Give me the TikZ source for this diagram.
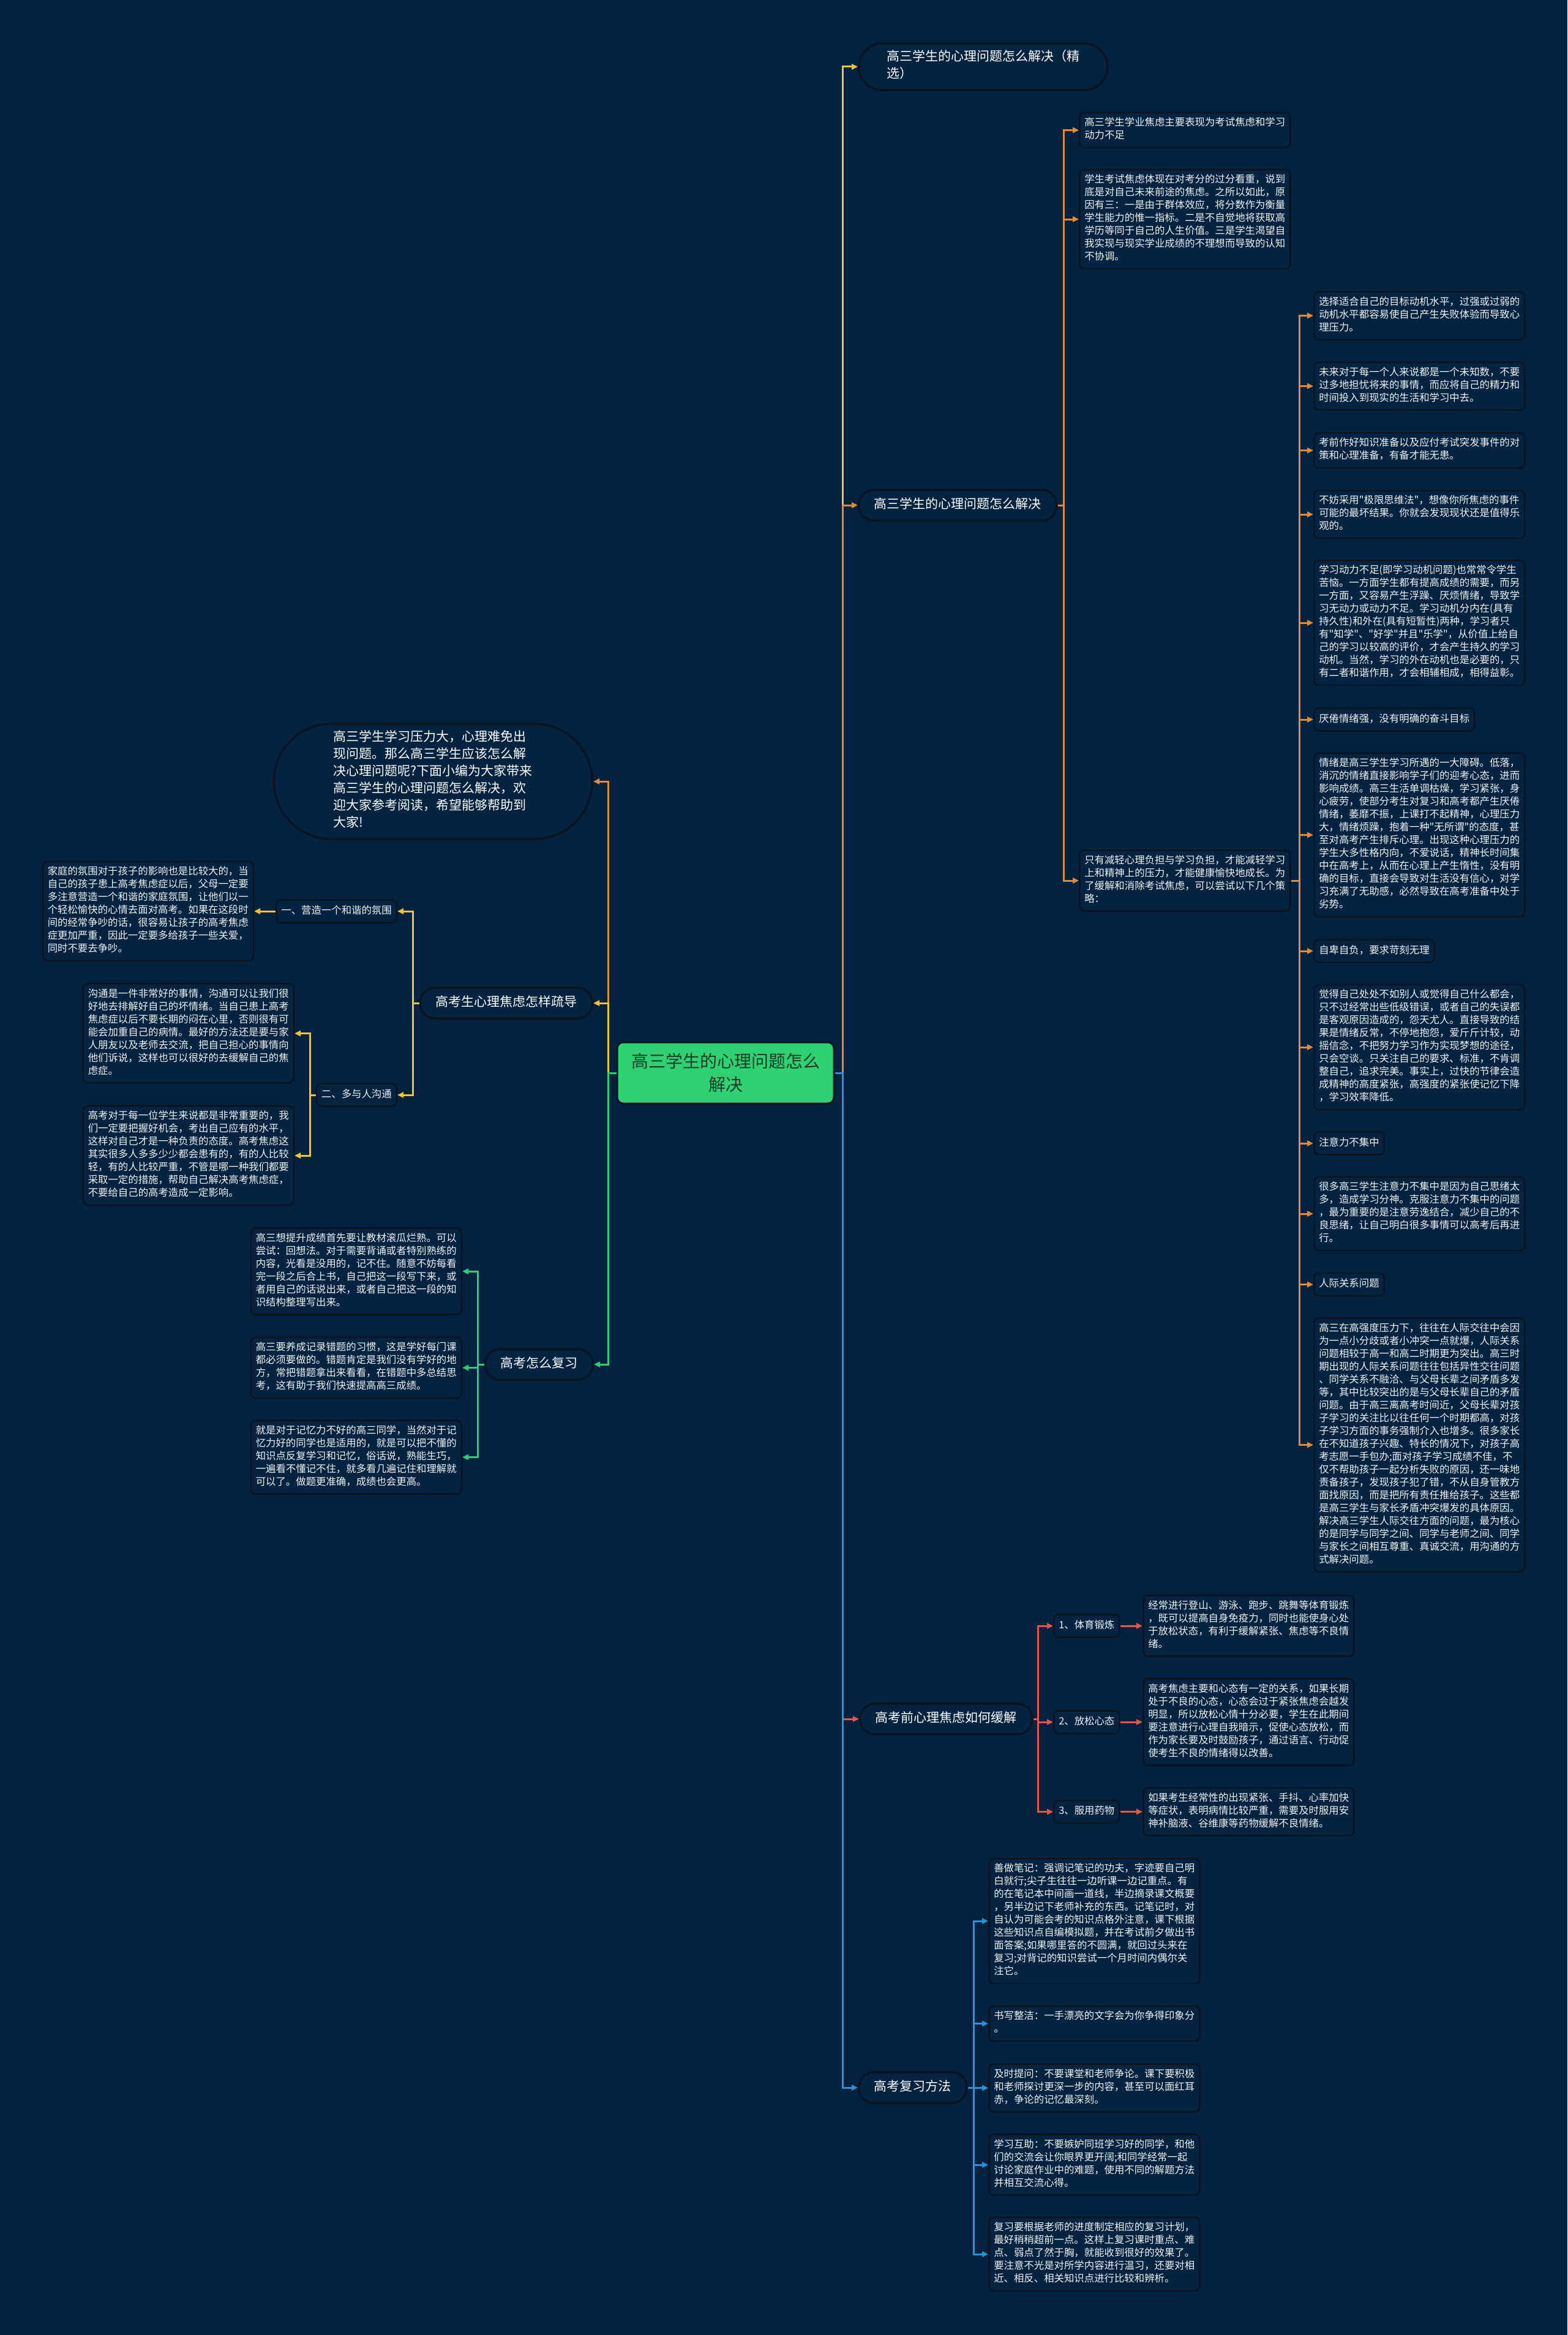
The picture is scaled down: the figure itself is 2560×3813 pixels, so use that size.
\documentclass[tikz,border=0pt]{standalone}
\usepackage{fontspec}
\setmainfont{Noto Sans CJK SC}[Ligatures=TeXOff]
\usetikzlibrary{arrows.meta}
\definecolor{bgc}{RGB}{2,34,64}
\definecolor{lfill}{RGB}{3,35,65}
\definecolor{nline}{RGB}{10,20,32}
\definecolor{ltext}{RGB}{242,244,246}
\definecolor{cyel}{RGB}{240,196,50}
\definecolor{corg}{RGB}{228,138,52}
\definecolor{cred}{RGB}{228,86,76}
\definecolor{cblu}{RGB}{38,148,220}
\definecolor{cgrn}{RGB}{46,204,113}
\definecolor{rootg}{RGB}{46,210,113}
\definecolor{roottext}{RGB}{28,58,42}
\newcommand{\lffont}{\fontsize{16.4}{21}\selectfont}
\newcommand{\brfont}{\fontsize{21}{28}\selectfont}
\newcommand{\rtfont}{\fontsize{28}{38}\selectfont}
\begin{document}
\begin{tikzpicture}[x=1pt,y=-1pt,
 conn/.style={line width=3pt,-{Triangle[length=10pt,width=9pt]}},
 cy/.style={conn,draw=cyel},
 co/.style={conn,draw=corg},
 cr/.style={conn,draw=cred},
 cb/.style={conn,draw=cblu},
 cg/.style={conn,draw=cgrn},
 leaf/.style={draw=nline,line width=2.5pt,fill=lfill,rounded corners=8pt,align=left,
   inner xsep=8pt,inner ysep=8pt,text=ltext,font=\lffont,
   execute at begin node=\strut,execute at end node=\strut},
 pill/.style={draw=nline,line width=3.5pt,fill=lfill,rounded corners=#1,align=left,
   inner xsep=25pt,inner ysep=11pt,text=white,font=\brfont,
   execute at begin node=\strut,execute at end node=\strut},
 pill/.default=24pt,
 rootbox/.style={draw=nline,line width=3pt,fill=rootg,rounded corners=10pt,align=center,
   text=roottext,font=\rtfont,minimum width=354pt,minimum height=100pt,inner sep=0pt}
]
\useasboundingbox (0,0) rectangle (2560,3813);
\fill[bgc] (0,0) rectangle (2560,3813);

% root
\node[rootbox] (root) at (1185,1752) {高三学生的心理问题怎么\\解决};

% right main branches
\node[pill=38pt,anchor=west,minimum width=406pt] (R1) at (1401,109) {高三学生的心理问题怎么解决（精\\选）};
\node[pill,anchor=west] (R2) at (1401,825) {高三学生的心理问题怎么解决};
\node[pill,anchor=west] (R3) at (1403,2807) {高考前心理焦虑如何缓解};
\node[pill,anchor=west] (R4) at (1401,3409) {高考复习方法};

% left main branches
\node[pill=94pt,anchor=east,minimum width=520pt] (L1) at (969,1276) {高三学生学习压力大，心理难免出\\现问题。那么高三学生应该怎么解\\决心理问题呢?下面小编为大家带来\\高三学生的心理问题怎么解决，欢\\迎大家参考阅读，希望能够帮助到\\大家!};
\node[pill,anchor=east] (L2) at (969,1638) {高考生心理焦虑怎样疏导};
\node[pill,anchor=east] (L3) at (970,2228) {高考怎么复习};

% R2 children
\node[leaf,anchor=west] (c1) at (1762,212.5) {高三学生学业焦虑主要表现为考试焦虑和学习\\动力不足};
\node[leaf,anchor=west] (c2) at (1762,358) {学生考试焦虑体现在对考分的过分看重，说到\\底是对自己未来前途的焦虑。之所以如此，原\\因有三：一是由于群体效应，将分数作为衡量\\学生能力的惟一指标。二是不自觉地将获取高\\学历等同于自己的人生价值。三是学生渴望自\\我实现与现实学业成绩的不理想而导致的认知\\不协调。};
\node[leaf,anchor=west] (c3) at (1762,1438) {只有减轻心理负担与学习负担，才能减轻学习\\上和精神上的压力，才能健康愉快地成长。为\\了缓解和消除考试焦虑，可以尝试以下几个策\\略：};

% c3 children
\node[leaf,anchor=west] (d1) at (2145,515.5) {选择适合自己的目标动机水平，过强或过弱的\\动机水平都容易使自己产生失败体验而导致心\\理压力。};
\node[leaf,anchor=west] (d2) at (2145,630.5) {未来对于每一个人来说都是一个未知数，不要\\过多地担忧将来的事情，而应将自己的精力和\\时间投入到现实的生活和学习中去。};
\node[leaf,anchor=west] (d3) at (2145,735.5) {考前作好知识准备以及应付考试突发事件的对\\策和心理准备，有备才能无患。};
\node[leaf,anchor=west] (d4) at (2145,840) {不妨采用"极限思维法"，想像你所焦虑的事件\\可能的最坏结果。你就会发现现状还是值得乐\\观的。};
\node[leaf,anchor=west] (d5) at (2145,1017) {学习动力不足(即学习动机问题)也常常令学生\\苦恼。一方面学生都有提高成绩的需要，而另\\一方面，又容易产生浮躁、厌烦情绪，导致学\\习无动力或动力不足。学习动机分内在(具有\\持久性)和外在(具有短暂性)两种，学习者只\\有"知学"、"好学"并且"乐学"，从价值上给自\\己的学习以较高的评价，才会产生持久的学习\\动机。当然，学习的外在动机也是必要的，只\\有二者和谐作用，才会相辅相成，相得益彰。};
\node[leaf,anchor=west] (d6) at (2145,1175) {厌倦情绪强，没有明确的奋斗目标};
\node[leaf,anchor=west] (d7) at (2145,1363.5) {情绪是高三学生学习所遇的一大障碍。低落，\\消沉的情绪直接影响学子们的迎考心态，进而\\影响成绩。高三生活单调枯燥，学习紧张，身\\心疲劳，使部分考生对复习和高考都产生厌倦\\情绪，萎靡不振，上课打不起精神，心理压力\\大，情绪烦躁，抱着一种"无所谓"的态度，甚\\至对高考产生排斥心理。出现这种心理压力的\\学生大多性格内向，不爱说话，精神长时间集\\中在高考上，从而在心理上产生惰性，没有明\\确的目标，直接会导致对生活没有信心，对学\\习充满了无助感，必然导致在高考准备中处于\\劣势。};
\node[leaf,anchor=west] (d8) at (2145,1553) {自卑自负，要求苛刻无理};
\node[leaf,anchor=west] (d9) at (2145,1710) {觉得自己处处不如别人或觉得自己什么都会，\\只不过经常出些低级错误，或者自己的失误都\\是客观原因造成的，怨天尤人。直接导致的结\\果是情绪反常，不停地抱怨，爱斤斤计较，动\\摇信念，不把努力学习作为实现梦想的途径，\\只会空谈。只关注自己的要求、标准，不肯调\\整自己，追求完美。事实上，过快的节律会造\\成精神的高度紧张，高强度的紧张使记忆下降\\，学习效率降低。};
\node[leaf,anchor=west] (d10) at (2145,1867) {注意力不集中};
\node[leaf,anchor=west] (d11) at (2145,1982) {很多高三学生注意力不集中是因为自己思绪太\\多，造成学习分神。克服注意力不集中的问题\\，最为重要的是注意劳逸结合，减少自己的不\\良思绪，让自己明白很多事情可以高考后再进\\行。};
\node[leaf,anchor=west] (d12) at (2145,2097.5) {人际关系问题};
\node[leaf,anchor=west] (d13) at (2145,2359.5) {高三在高强度压力下，往往在人际交往中会因\\为一点小分歧或者小冲突一点就爆，人际关系\\问题相较于高一和高二时期更为突出。高三时\\期出现的人际关系问题往往包括异性交往问题\\、同学关系不融洽、与父母长辈之间矛盾多发\\等，其中比较突出的是与父母长辈自己的矛盾\\问题。由于高三离高考时间近，父母长辈对孩\\子学习的关注比以往任何一个时期都高，对孩\\子学习方面的事务强制介入也增多。很多家长\\在不知道孩子兴趣、特长的情况下，对孩子高\\考志愿一手包办;面对孩子学习成绩不佳，不\\仅不帮助孩子一起分析失败的原因，还一味地\\责备孩子，发现孩子犯了错，不从自身管教方\\面找原因，而是把所有责任推给孩子。这些都\\是高三学生与家长矛盾冲突爆发的具体原因。\\解决高三学生人际交往方面的问题，最为核心\\的是同学与同学之间、同学与老师之间、同学\\与家长之间相互尊重、真诚交流，用沟通的方\\式解决问题。};

% R3 children
\node[leaf,anchor=west] (k1) at (1720,2655) {1、体育锻炼};
\node[leaf,anchor=west] (k2) at (1720,2812) {2、放松心态};
\node[leaf,anchor=west] (k3) at (1720,2958.5) {3、服用药物};
\node[leaf,anchor=west] (g1) at (1866,2655) {经常进行登山、游泳、跑步、跳舞等体育锻炼\\，既可以提高自身免疫力，同时也能使身心处\\于放松状态，有利于缓解紧张、焦虑等不良情\\绪。};
\node[leaf,anchor=west] (g2) at (1866,2812) {高考焦虑主要和心态有一定的关系，如果长期\\处于不良的心态，心态会过于紧张焦虑会越发\\明显，所以放松心情十分必要，学生在此期间\\要注意进行心理自我暗示，促使心态放松，而\\作为家长要及时鼓励孩子，通过语言、行动促\\使考生不良的情绪得以改善。};
\node[leaf,anchor=west] (g3) at (1866,2958.5) {如果考生经常性的出现紧张、手抖、心率加快\\等症状，表明病情比较严重，需要及时服用安\\神补脑液、谷维康等药物缓解不良情绪。};

% R4 children
\node[leaf,anchor=west] (e1) at (1614,3137) {善做笔记：强调记笔记的功夫，字迹要自己明\\白就行;尖子生往往一边听课一边记重点。有\\的在笔记本中间画一道线，半边摘录课文概要\\，另半边记下老师补充的东西。记笔记时，对\\自认为可能会考的知识点格外注意，课下根据\\这些知识点自编模拟题，并在考试前夕做出书\\面答案;如果哪里答的不圆满，就回过头来在\\复习;对背记的知识尝试一个月时间内偶尔关\\注它。};
\node[leaf,anchor=west] (e2) at (1614,3304.5) {书写整洁：一手漂亮的文字会为你争得印象分\\。};
\node[leaf,anchor=west] (e3) at (1614,3409.5) {及时提问：不要课堂和老师争论。课下要积极\\和老师探讨更深一步的内容，甚至可以面红耳\\赤，争论的记忆最深刻。};
\node[leaf,anchor=west] (e4) at (1614,3535) {学习互助：不要嫉妒同班学习好的同学，和他\\们的交流会让你眼界更开阔;和同学经常一起\\讨论家庭作业中的难题，使用不同的解题方法\\并相互交流心得。};
\node[leaf,anchor=west] (e5) at (1614,3681) {复习要根据老师的进度制定相应的复习计划，\\最好稍稍超前一点。这样上复习课时重点、难\\点、弱点了然于胸，就能收到很好的效果了。\\要注意不光是对所学内容进行温习，还要对相\\近、相反、相关知识点进行比较和辨析。};

% L2 children
\node[leaf,anchor=east] (m1) at (649,1488) {一、营造一个和谐的氛围};
\node[leaf,anchor=east] (m2) at (649,1788) {二、多与人沟通};
\node[leaf,anchor=east] (n1) at (415,1488) {家庭的氛围对于孩子的影响也是比较大的，当\\自己的孩子患上高考焦虑症以后，父母一定要\\多注意营造一个和谐的家庭氛围，让他们以一\\个轻松愉快的心情去面对高考。如果在这段时\\间的经常争吵的话，很容易让孩子的高考焦虑\\症更加严重，因此一定要多给孩子一些关爱，\\同时不要去争吵。};
\node[leaf,anchor=east] (n2) at (481,1687.5) {沟通是一件非常好的事情，沟通可以让我们很\\好地去排解好自己的坏情绪。当自己患上高考\\焦虑症以后不要长期的闷在心里，否则很有可\\能会加重自己的病情。最好的方法还是要与家\\人朋友以及老师去交流，把自己担心的事情向\\他们诉说，这样也可以很好的去缓解自己的焦\\虑症。};
\node[leaf,anchor=east] (n3) at (481,1887) {高考对于每一位学生来说都是非常重要的，我\\们一定要把握好机会，考出自己应有的水平，\\这样对自己才是一种负责的态度。高考焦虑这\\其实很多人多多少少都会患有的，有的人比较\\轻，有的人比较严重，不管是哪一种我们都要\\采取一定的措施，帮助自己解决高考焦虑症，\\不要给自己的高考造成一定影响。};

% L3 children
\node[leaf,anchor=east] (h1) at (755,2076) {高三想提升成绩首先要让教材滚瓜烂熟。可以\\尝试：回想法。对于需要背诵或者特别熟练的\\内容，光看是没用的，记不住。随意不妨每看\\完一段之后合上书，自己把这一段写下来，或\\者用自己的话说出来，或者自己把这一段的知\\识结构整理写出来。};
\node[leaf,anchor=east] (h2) at (755,2233.5) {高三要养成记录错题的习惯，这是学好每门课\\都必须要做的。错题肯定是我们没有学好的地\\方，常把错题拿出来看看，在错题中多总结思\\考，这有助于我们快速提高高三成绩。};
\node[leaf,anchor=east] (h3) at (755,2379.5) {就是对于记忆力不好的高三同学，当然对于记\\忆力好的同学也是适用的，就是可以把不懂的\\知识点反复学习和记忆，俗话说，熟能生巧，\\一遍看不懂记不住，就多看几遍记住和理解就\\可以了。做题更准确，成绩也会更高。};

% junction coordinates
\coordinate (rj) at (1376,1752);
\coordinate (lj) at (993,1752);
\coordinate (r2j) at (1737,825);
\coordinate (c3j) at (2122,1438);
\coordinate (r3j) at (1695,2807);
\coordinate (r4j) at (1590,3409);
\coordinate (l2j) at (674,1638);
\coordinate (m2j) at (506,1788);
\coordinate (l3j) at (780,2228);

% right main connectors
\draw[cy] (root.east) -- (rj) |- (R1.west);
\draw[co] (root.east) -- (rj) |- (R2.west);
\draw[cr] (root.east) -- (rj) |- (R3.west);
\draw[cb] (root.east) -- (rj) |- (R4.west);

% left main connectors
\draw[co] (root.west) -- (lj) |- (L1.east);
\draw[cy] (root.west) -- (lj) |- (L2.east);
\draw[cg] (root.west) -- (lj) |- (L3.east);

% R2 subtree
\foreach \t in {c1,c2,c3} \draw[co] (R2.east) -- (r2j) |- (\t.west);
\foreach \t in {d1,d2,d3,d4,d5,d6,d7,d8,d9,d10,d11,d12,d13} \draw[co] (c3.east) -- (c3j) |- (\t.west);

% R3 subtree
\foreach \t in {k1,k2,k3} \draw[cr] (R3.east) -- (r3j) |- (\t.west);
\draw[cr] (k1.east) -- (g1.west);
\draw[cr] (k2.east) -- (g2.west);
\draw[cr] (k3.east) -- (g3.west);

% R4 subtree
\foreach \t in {e1,e2,e3,e4,e5} \draw[cb] (R4.east) -- (r4j) |- (\t.west);

% L2 subtree
\foreach \t in {m1,m2} \draw[cy] (L2.west) -- (l2j) |- (\t.east);
\draw[cy] (m1.west) -- (n1.east);
\foreach \t in {n2,n3} \draw[cy] (m2.west) -- (m2j) |- (\t.east);

% L3 subtree
\foreach \t in {h1,h2,h3} \draw[cg] (L3.west) -- (l3j) |- (\t.east);
\end{tikzpicture}
\end{document}
